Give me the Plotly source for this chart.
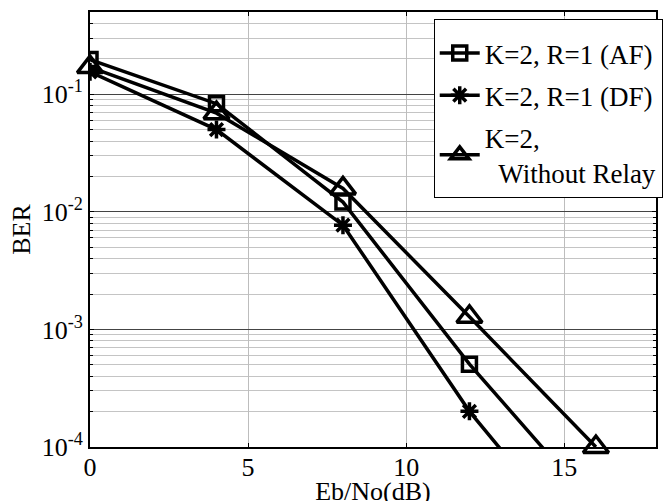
import plotly.graph_objects as go

snr = [0, 4, 8, 12, 16]
ber_af = [0.197, 0.083, 0.0121, 5.06e-4, 3.0e-5]
ber_df = [0.155, 0.050, 0.0077, 2.01e-4, 1.0e-5]
ber_norelay = [0.17, 0.069, 0.0158, 1.28e-3, 1.0e-4]

names = ["K=2, R=1 (AF)", "K=2, R=1 (DF)", "K=2,<br>\u00a0\u00a0Without Relay"]

x_ticks = [0, 5, 10, 15]
y_major = [1e-4, 1e-3, 1e-2, 1e-1]
y_major_text = ["10<sup>-4</sup>", "10<sup>-3</sup>", "10<sup>-2</sup>", "10<sup>-1</sup>"]
y_minor = [m * d for d in [1e-4, 1e-3, 1e-2, 1e-1] for m in range(2, 10)]

FONT = "Liberation Serif"

fig = go.Figure()
fig.add_trace(go.Scatter(
    x=snr, y=ber_af, name=names[0], mode="lines+markers", legendgroup="a",
    line=dict(color="black", width=3.5),
    marker=dict(symbol="square-open", size=14, color="black", line=dict(width=3.5, color="black")),
    cliponaxis=True))
fig.add_trace(go.Scatter(
    x=snr, y=ber_df, name=names[1], mode="lines+markers", legendgroup="b",
    line=dict(color="black", width=3.5),
    marker=dict(symbol="asterisk-open", size=15, color="black", line=dict(width=3.5, color="black")),
    cliponaxis=True))
fig.add_trace(go.Scatter(
    x=snr, y=ber_norelay, name=names[2], mode="lines+markers", legendgroup="c",
    line=dict(color="black", width=3.5),
    marker=dict(symbol="triangle-up-open", size=22, color="black", line=dict(width=3.5, color="black")),
    cliponaxis=False))

fig.update_layout(
    width=665, height=506,
    margin=dict(l=90, r=2, t=12, b=59),
    paper_bgcolor="white", plot_bgcolor="white",
    font=dict(family=FONT, size=26, color="black"),
    showlegend=True,
    legend=dict(
        x=0.6073, y=0.984, xanchor="left", yanchor="top",
        bgcolor="white", bordercolor="black", borderwidth=1,
        font=dict(family=FONT, size=27, color="black"),
        title=dict(text=" ", font=dict(family=FONT, size=7)),
        tracegroupgap=4, valign="middle", itemwidth=40,
    ),
    xaxis=dict(
        range=[0, 17.9], tickvals=x_ticks, ticktext=[str(v) for v in x_ticks],
        showgrid=True, gridcolor="#bdbdbd", gridwidth=1,
        showline=True, linecolor="black", linewidth=2, mirror="ticks",
        ticks="inside", ticklen=4, tickcolor="black",
        zeroline=False, automargin=False, ticklabelstandoff=-4,
        title=dict(text="Eb/No(dB)", font=dict(family=FONT, size=26), standoff=12),
    ),
    yaxis=dict(
        type="log", range=[-4, -0.301],
        tickvals=y_major, ticktext=y_major_text,
        showgrid=True, gridcolor="#444444", gridwidth=1,
        showline=True, linecolor="black", linewidth=2, mirror="ticks",
        ticks="inside", ticklen=4, tickcolor="black",
        zeroline=False, automargin=False,
        minor=dict(tickvals=y_minor, showgrid=True, gridcolor="#c4c4c4", gridwidth=1,
                   ticks="inside", ticklen=3, tickcolor="black"),
        title=dict(text="BER", font=dict(family=FONT, size=26), standoff=4),
    ),
)

fig.write_html("out.html", config={"displayModeBar": False},
               post_script="document.body.style.margin='0';")
